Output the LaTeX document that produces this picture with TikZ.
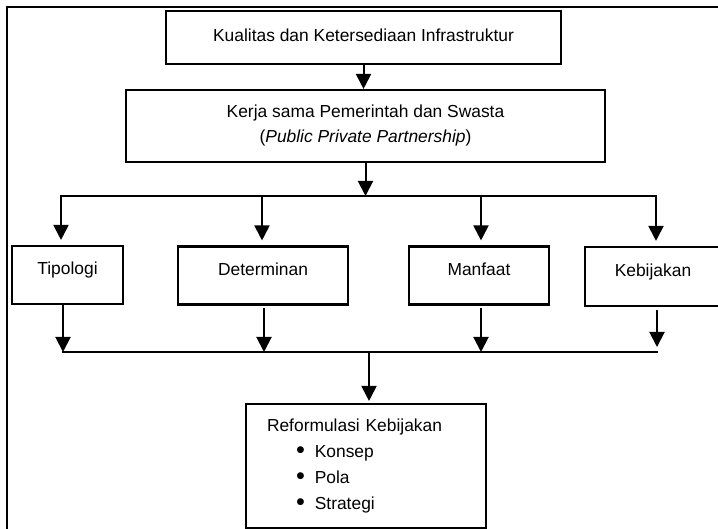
\documentclass[tikz,border=0pt]{standalone}
\usepackage{fontspec}
\setmainfont{Liberation Sans}
\usetikzlibrary{arrows.meta}
\newcommand{\itembullet}{\hspace*{29pt}\raisebox{-1.2pt}{\scalebox{1.45}{•}}\hspace{10pt}}
\begin{document}
\begin{tikzpicture}[x=1pt,y=-1pt,
  box/.style={draw, line width=2.1pt, inner sep=0pt, font=\fontsize{17.4}{25}\selectfont},
  small/.style={box, minimum height=58pt, text height=12.5pt, text depth=12.5pt},
  link/.style={line width=2pt},
  bus/.style={link, line cap=rect},
  arr/.style={link, -{Triangle[length=15pt,width=15pt]}},
  frame/.style={line width=1.3pt}]
\clip (0,0) rectangle (718,529);
% page frame
\draw[frame] (7,560) -- (7,7) -- (740,7);

% boxes
\node[box, minimum width=395pt, minimum height=53pt, text height=12.5pt, text depth=5pt]
  (kualitas) at (363.5,37.5) {Kualitas dan Ketersediaan Infrastruktur};
\node[box, minimum width=479pt, minimum height=72pt, align=center]
  (kps) at (365.5,126) {Kerja sama Pemerintah dan Swasta\\(\textit{Public Private Partnership})};
\node[small, minimum width=111pt] (tipologi) at (67.5,275) {Tipologi};
\node[small, minimum width=170pt] (determinan) at (263,275.5) {Determinan};
\node[small, minimum width=140pt] (manfaat) at (479,275.5) {Manfaat};
\node[small, minimum width=136pt, minimum height=59pt] (kebijakan) at (653,276.5) {Kebijakan};
\node[box, font=\fontsize{17.4}{26}\selectfont, minimum width=240pt, minimum height=124pt,
  text width=198pt, inner xsep=21pt, align=left] (reform) at (366,466)
  {Reformulasi Kebijakan\\
   \itembullet Konsep\\
   \itembullet Pola\\
   \itembullet Strategi};

% upper distribution bus
\coordinate (d1) at (61,196);
\coordinate (d2) at (262,196);
\coordinate (d3) at (481,196);
\coordinate (d4) at (656,196);
\draw[arr] (kualitas.south) -- (kualitas.south |- kps.north);
\draw[arr] (kps.south) -- (kps.south |- d1);
\draw[bus] (d1) -- (d4);
\draw[arr, shorten >=5pt] (d1) -- (d1 |- tipologi.north);
\draw[arr, shorten >=5pt] (d2) -- (d2 |- determinan.north);
\draw[arr, shorten >=5pt] (d3) -- (d3 |- manfaat.north);
\draw[arr, shorten >=5pt] (d4) -- (d4 |- kebijakan.north);

% lower collecting bus
\coordinate (u1) at (63,352);
\coordinate (u2) at (264,352);
\coordinate (u3) at (481,352);
\coordinate (u4) at (657,352);
\coordinate (uc) at (369,352);
\draw[arr] (u1 |- tipologi.south) -- (u1);
\draw[arr, shorten <=2pt] (u2 |- determinan.south) -- (u2);
\draw[arr, shorten <=2pt] (u3 |- manfaat.south) -- (u3);
\draw[arr, shorten <=3pt, shorten >=5pt] (u4 |- kebijakan.south) -- (u4);
\draw[bus] (u1) -- (u4);
\draw[arr, shorten >=2pt] (uc) -- (uc |- reform.north);
\end{tikzpicture}
\end{document}
